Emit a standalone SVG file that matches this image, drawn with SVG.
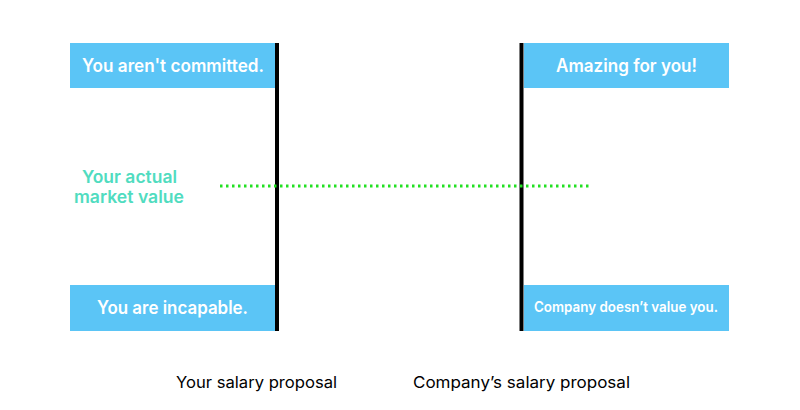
<svg xmlns="http://www.w3.org/2000/svg" width="800" height="410" viewBox="0 0 800 410">
<style>
.box{fill:#5bc5f6;}
.bt{fill:#fff;font-family:Inter,"Liberation Sans",sans-serif;font-weight:600;font-size:18px;text-anchor:middle;}
.axis{stroke:#000;stroke-width:4;}
.lbl{fill:#000;font-family:Inter,"Liberation Sans",sans-serif;font-size:16px;text-anchor:middle;}
.mv{fill:#50dcc0;font-family:Inter,"Liberation Sans",sans-serif;font-weight:600;font-size:17px;text-anchor:middle;}
</style>
<rect width="800" height="410" fill="#fff"/>
<g id="connectors">
<line class="axis" x1="277" y1="43" x2="277" y2="331"/>
<line class="axis" x1="521.5" y1="43" x2="521.5" y2="331"/>
<line x1="220" y1="186" x2="592" y2="186" stroke="#22e022" stroke-width="3" stroke-dasharray="2.5 3.5"/>
</g>
<g id="n1"><rect class="box" x="70" y="43" width="205" height="45"/><text class="bt" x="173" y="72" textLength="182" lengthAdjust="spacingAndGlyphs">You aren't committed.</text></g>
<g id="n2"><rect class="box" x="524" y="43" width="205" height="45"/><text class="bt" x="626.5" y="72" textLength="141" lengthAdjust="spacingAndGlyphs">Amazing for you!</text></g>
<g id="n3"><rect class="box" x="70" y="285" width="205" height="46"/><text class="bt" x="172.5" y="314" textLength="151" lengthAdjust="spacingAndGlyphs">You are incapable.</text></g>
<g id="n4"><rect class="box" x="524" y="285" width="205" height="46"/><text class="bt" x="626" y="312" style="font-size:14px" textLength="184" lengthAdjust="spacingAndGlyphs">Company doesn’t value you.</text></g>
<g id="market"><text class="mv" x="129.5" y="183" textLength="95" lengthAdjust="spacingAndGlyphs">Your actual</text><text class="mv" x="129" y="203" textLength="110" lengthAdjust="spacingAndGlyphs">market value</text></g>
<g id="labels"><text class="lbl" x="256.5" y="388" textLength="161" lengthAdjust="spacingAndGlyphs">Your salary proposal</text><text class="lbl" x="521.5" y="388" textLength="217" lengthAdjust="spacingAndGlyphs">Company’s salary proposal</text></g>
</svg>
